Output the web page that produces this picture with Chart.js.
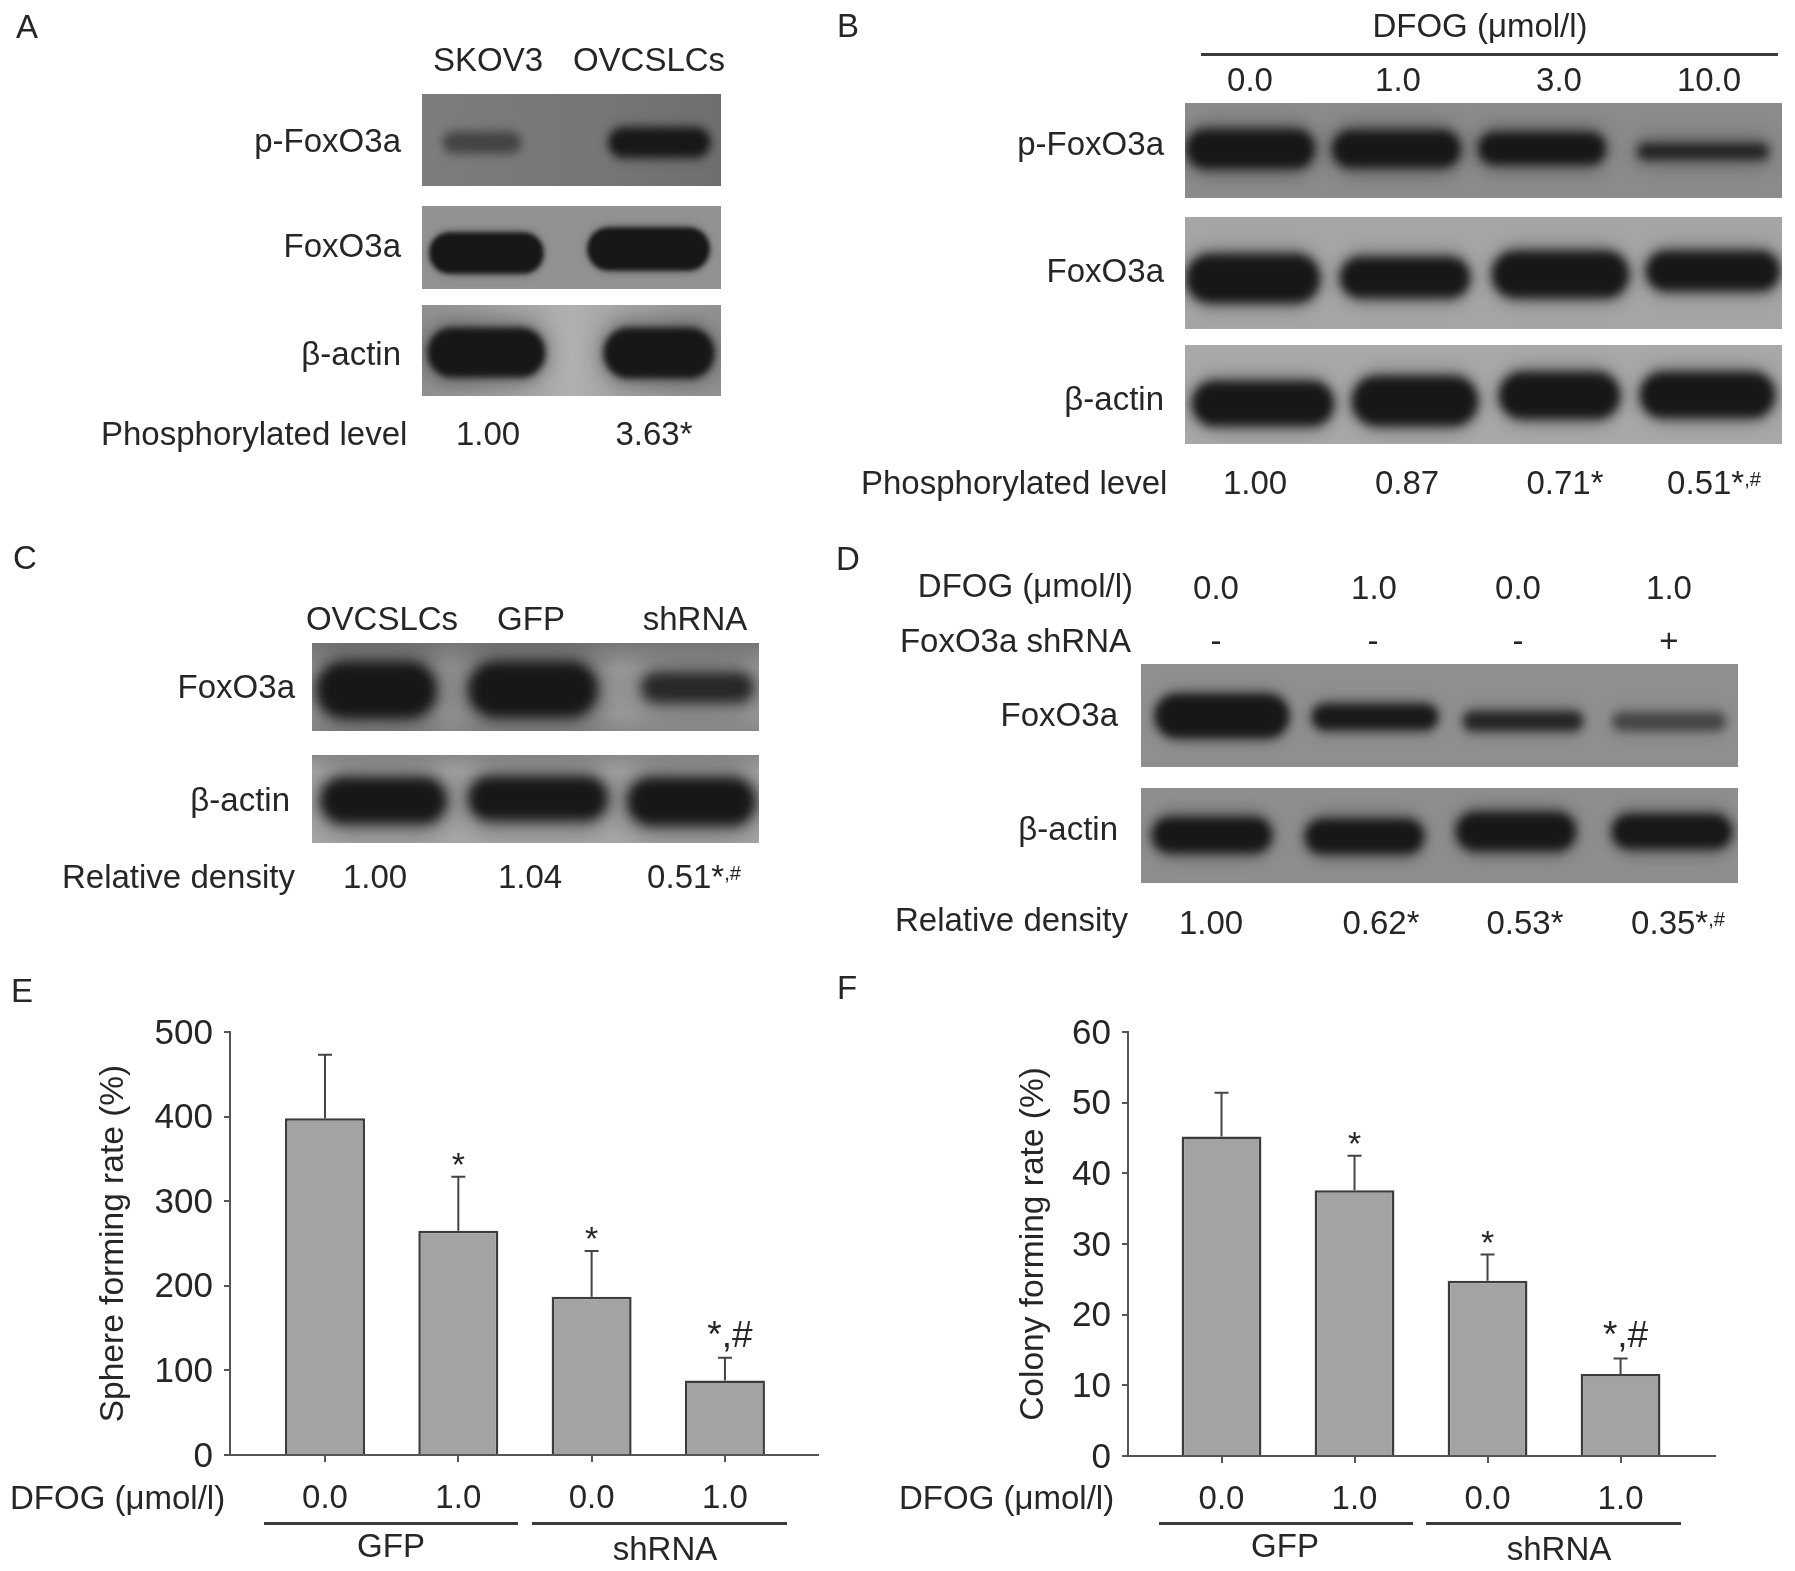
<!DOCTYPE html>
<html>
<head>
<meta charset="utf-8">
<title>FoxO3a blots and forming rates</title>
<script src="https://cdn.jsdelivr.net/npm/chart.js@4"></script>
<style>
  html, body { margin: 0; background: #fff; }
  #page { position: relative; width: 1795px; height: 1571px; overflow: hidden; filter: blur(0.55px); }
  #page canvas { position: absolute; }
  .t { position: absolute; white-space: nowrap; font: 33px "Liberation Sans", Arial, sans-serif; color: #262626; line-height: 1; }
  .t small { font-size: 20px; position: relative; top: -8px; }
  .rule { position: absolute; height: 3px; background: #3a3a3a; }
</style>
</head>
<body>
<div id="page"></div>
<script>
// Bar panels
const doseLabels = ['0.0', '1.0', '0.0', '1.0'];
const groupPositions = [0, 1, 2, 3];
const sphereRate = [398, 265, 187, 88];
const sphereErrorTop = [473, 329, 241, 115];
const colonyRate = [45.2, 37.6, 24.8, 11.6];
const colonyErrorTop = [51.4, 42.5, 28.5, 13.8];
const significance = ['', '*', '*', '*,#'];

// Blot bands: [left, right, top, bottom, darkness]
const bandsA1 = [[444, 520, 133, 152, 0.45], [610, 709, 129, 156, 1]];
const bandsA2 = [[430, 543, 233, 273, 1], [588, 709, 228, 270, 1]];
const bandsA3 = [[428, 545, 328, 377, 1], [604, 714, 328, 378, 1]];
const bandsB1 = [[1187, 1314, 130, 168, 1], [1333, 1460, 131, 167, 1], [1479, 1605, 133, 164, 1], [1638, 1768, 144, 159, 0.85]];
const bandsB2 = [[1187, 1319, 255, 302, 1], [1341, 1469, 258, 297, 1], [1493, 1628, 252, 297, 1], [1647, 1779, 252, 290, 1]];
const bandsB3 = [[1193, 1333, 382, 425, 1], [1353, 1477, 377, 425, 1], [1500, 1619, 373, 418, 1], [1641, 1774, 373, 417, 1]];
const bandsC1 = [[317, 436, 662, 718, 1], [469, 597, 662, 717, 1], [642, 753, 673, 702, 0.8]];
const bandsC2 = [[321, 446, 778, 823, 1], [469, 607, 777, 820, 1], [628, 755, 778, 825, 1]];
const bandsD1 = [[1156, 1288, 695, 737, 1], [1313, 1437, 705, 729, 0.95], [1464, 1582, 712, 730, 0.8], [1613, 1725, 713, 730, 0.5]];
const bandsD2 = [[1153, 1271, 818, 852, 1], [1306, 1423, 820, 853, 1], [1457, 1575, 813, 850, 1], [1613, 1731, 815, 848, 1]];

const page = document.getElementById('page');

function addCanvas(left, top, width, height) {
    const c = document.createElement('canvas');
    c.width = width;
    c.height = height;
    c.style.left = left + 'px';
    c.style.top = top + 'px';
    c.style.width = width + 'px';
    c.style.height = height + 'px';
    page.appendChild(c);
    return c;
}

function text(html, x, y, align) {
    const el = document.createElement('div');
    el.className = 't';
    el.innerHTML = html;
    el.style.left = x + 'px';
    el.style.top = y + 'px';
    const shift = align === 'right' ? '-100%' : align === 'left' ? '0' : '-50%';
    el.style.transform = 'translate(' + shift + ',-50%)';
    page.appendChild(el);
}

function rule(x1, x2, y) {
    const el = document.createElement('div');
    el.className = 'rule';
    el.style.left = x1 + 'px';
    el.style.width = (x2 - x1) + 'px';
    el.style.top = y + 'px';
    page.appendChild(el);
}

// blur each band on its own so the edges look like film
const bandBlur = {
    id: 'bandBlur',
    beforeDatasetDraw(chart, args) {
        chart.ctx.save();
        chart.ctx.filter = 'blur(' + chart.data.datasets[args.index].blurPx + 'px)';
    },
    afterDatasetDraw(chart) {
        chart.ctx.restore();
    }
};

function blot(bands, box, background, blurPx, halo) {
    const canvas = addCanvas(box[0], box[2], box[1] - box[0], box[3] - box[2]);
    canvas.style.background = background;
    const datasets = [];
    bands.forEach(function(b) {
        // soft halo first, then the dark core
        datasets.push({
            data: [{ x: (b[0] + b[1]) / 2, y: [b[2] - halo, b[3] + halo] }],
            barThickness: b[1] - b[0] + halo,
            backgroundColor: 'rgba(30,30,30,' + (0.42 * b[4]) + ')',
            blurPx: halo + 2
        });
        datasets.push({
            data: [{ x: (b[0] + b[1]) / 2, y: [b[2], b[3]] }],
            barThickness: b[1] - b[0],
            backgroundColor: 'rgba(18,18,18,' + b[4] + ')',
            blurPx: blurPx
        });
    });
    datasets.forEach(function(d) {
        d.grouped = false;
        d.borderRadius = 30;
        d.borderSkipped = false;
    });
    new Chart(canvas, {
        type: 'bar',
        data: { datasets: datasets },
        options: {
            responsive: false,
            animation: false,
            plugins: { legend: { display: false }, tooltip: { enabled: false } },
            scales: {
                x: { type: 'linear', min: box[0], max: box[1], offset: false, display: false },
                y: { min: box[2], max: box[3], reverse: true, display: false }
            }
        },
        plugins: [bandBlur]
    });
}

// error bars and significance marks, placed through the value scale
const errorMarks = {
    id: 'errorMarks',
    afterDatasetsDraw(chart, args, opts) {
        const ctx = chart.ctx;
        const x = chart.scales.x;
        const y = chart.scales.y;
        ctx.save();
        ctx.strokeStyle = '#444';
        ctx.lineWidth = 2;
        ctx.fillStyle = '#262626';
        ctx.textAlign = 'center';
        opts.tops.forEach(function(top, i) {
            const px = x.getPixelForValue(groupPositions[i]);
            const py = y.getPixelForValue(top);
            ctx.beginPath();
            ctx.moveTo(px, y.getPixelForValue(opts.values[i]));
            ctx.lineTo(px, py);
            ctx.moveTo(px - 7, py);
            ctx.lineTo(px + 7, py);
            ctx.stroke();
            const mark = significance[i];
            if (!mark) return;
            const wide = mark.length > 1;
            ctx.font = (wide ? 37 : 34) + 'px "Liberation Sans", Arial, sans-serif';
            ctx.fillText(mark, px + (wide ? 5 : 0), py - (wide ? 11 : 1));
        });
        ctx.restore();
    }
};

function barChart(canvas, values, tops, yMax, step, title, geom) {
    new Chart(canvas, {
        type: 'bar',
        data: {
            datasets: [{
                data: groupPositions.map(function(p, i) { return { x: p, y: values[i] }; }),
                backgroundColor: '#a3a3a3',
                borderColor: '#3c3c3c',
                borderWidth: 2.5,
                barPercentage: 0.6,
                categoryPercentage: 1
            }]
        },
        options: {
            responsive: false,
            animation: false,
            layout: { padding: { left: geom.padLeft, right: geom.padRight, top: geom.padTop, bottom: 0 } },
            plugins: {
                legend: { display: false },
                tooltip: { enabled: false },
                errorMarks: { values: values, tops: tops }
            },
            scales: {
                x: {
                    type: 'linear',
                    min: geom.xMin,
                    max: geom.xMax,
                    offset: false,
                    afterBuildTicks: function(s) { s.ticks = groupPositions.map(function(v) { return { value: v }; }); },
                    afterFit: function(s) { s.height = geom.xHeight; },
                    grid: { offset: false, drawOnChartArea: false, color: '#555', tickLength: 7, lineWidth: 2 },
                    border: { color: '#555', width: 2 },
                    ticks: {
                        autoSkip: false,
                        maxRotation: 0,
                        padding: 17,
                        color: '#262626',
                        font: { family: '"Liberation Sans", Arial, sans-serif', size: 33 },
                        callback: function(v) { return doseLabels[v]; }
                    }
                },
                y: {
                    min: 0,
                    max: yMax,
                    afterFit: function(s) { s.width = geom.yWidth; },
                    grid: { drawOnChartArea: false, color: '#555', tickLength: 6, lineWidth: 2 },
                    border: { color: '#555', width: 2 },
                    title: {
                        display: true,
                        text: title,
                        color: '#262626',
                        padding: 0,
                        font: { family: '"Liberation Sans", Arial, sans-serif', size: 33.5 }
                    },
                    ticks: {
                        stepSize: step,
                        padding: 11,
                        labelOffset: 2,
                        color: '#262626',
                        font: { family: '"Liberation Sans", Arial, sans-serif', size: 35 }
                    }
                }
            }
        },
        plugins: [errorMarks]
    });
}

document.addEventListener('DOMContentLoaded', function() {
    // Panel A
    blot(bandsA1, [422, 721, 94, 186], 'linear-gradient(90deg,#7d7d7d,#767676 60%,#6f6f6f)', 4, 4);
    blot(bandsA2, [422, 721, 206, 289], '#929292', 2, 2);
    blot(bandsA3, [422, 721, 305, 396], 'linear-gradient(90deg,#8f8f8f,#b0b0b0 50%,#a8a8a8 60%,#909090)', 3, 7);
    // Panel B
    blot(bandsB1, [1185, 1782, 103, 198], '#8b8b8b', 5, 7);
    blot(bandsB2, [1185, 1782, 217, 329], '#a5a5a5', 5, 6);
    blot(bandsB3, [1185, 1782, 345, 444], '#a8a8a8', 5, 6);
    // Panel C
    blot(bandsC1, [312, 759, 643, 731], 'linear-gradient(180deg,#777,#9a9a9a 30%,#9a9a9a 80%,#8a8a8a)', 6, 11);
    blot(bandsC2, [312, 759, 755, 843], 'linear-gradient(180deg,#8a8a8a,#a8a8a8 20%,#a8a8a8)', 6, 10);
    // Panel D
    blot(bandsD1, [1141, 1738, 664, 767], '#8f8f8f', 4, 5);
    blot(bandsD2, [1141, 1738, 788, 883], '#8e8e8e', 5, 6);

    // Panels E and F
    barChart(addCanvas(0, 1000, 830, 571), sphereRate, sphereErrorTop, 500, 100, 'Sphere forming rate (%)',
        { padLeft: 94, padRight: 12, padTop: 32, xHeight: 116, yWidth: 136, xMin: -0.7125, xMax: 3.698 });
    barChart(addCanvas(880, 1000, 850, 571), colonyRate, colonyErrorTop, 60, 10, 'Colony forming rate (%)',
        { padLeft: 134, padRight: 15, padTop: 31, xHeight: 115, yWidth: 114, xMin: -0.703, xMax: 3.71 });

    // Panel letters
    text('A', 27, 26); text('B', 848, 25); text('C', 25, 557);
    text('D', 848, 558); text('E', 22, 990); text('F', 847, 987);

    // Panel A text
    text('SKOV3', 488, 59); text('OVCSLCs', 649, 59);
    text('p-FoxO3a', 401, 140, 'right'); text('FoxO3a', 401, 245, 'right'); text('β-actin', 401, 353, 'right');
    text('Phosphorylated level', 101, 433, 'left'); text('1.00', 488, 433); text('3.63*', 654, 433);

    // Panel B text
    text('DFOG (μmol/l)', 1480, 25); rule(1201, 1778, 53);
    text('0.0', 1250, 79); text('1.0', 1398, 79); text('3.0', 1559, 79); text('10.0', 1709, 79);
    text('p-FoxO3a', 1164, 143, 'right'); text('FoxO3a', 1164, 270, 'right'); text('β-actin', 1164, 398, 'right');
    text('Phosphorylated level', 861, 482, 'left');
    text('1.00', 1255, 482); text('0.87', 1407, 482); text('0.71*', 1565, 482); text('0.51*<small>,#</small>', 1714, 482);

    // Panel C text
    text('OVCSLCs', 382, 618); text('GFP', 531, 618); text('shRNA', 695, 618);
    text('FoxO3a', 295, 686, 'right'); text('β-actin', 290, 799, 'right');
    text('Relative density', 62, 876, 'left');
    text('1.00', 375, 876); text('1.04', 530, 876); text('0.51*<small>,#</small>', 694, 876);

    // Panel D text
    text('DFOG (μmol/l)', 1133, 585, 'right');
    text('0.0', 1216, 587); text('1.0', 1374, 587); text('0.0', 1518, 587); text('1.0', 1669, 587);
    text('FoxO3a shRNA', 1131, 640, 'right');
    text('-', 1216, 640); text('-', 1373, 640); text('-', 1518, 640); text('+', 1669, 640);
    text('FoxO3a', 1118, 714, 'right'); text('β-actin', 1118, 828, 'right');
    text('Relative density', 895, 919, 'left');
    text('1.00', 1211, 922); text('0.62*', 1381, 922); text('0.53*', 1525, 922); text('0.35*<small>,#</small>', 1678, 922);

    // Panel E and F group labels
    text('DFOG (μmol/l)', 10, 1497, 'left');
    rule(264, 518, 1522); rule(532, 787, 1522);
    text('GFP', 391, 1545); text('shRNA', 665, 1548);
    text('DFOG (μmol/l)', 899, 1497, 'left');
    rule(1159, 1413, 1522); rule(1426, 1681, 1522);
    text('GFP', 1285, 1545); text('shRNA', 1559, 1548);
});
</script>
</body>
</html>
